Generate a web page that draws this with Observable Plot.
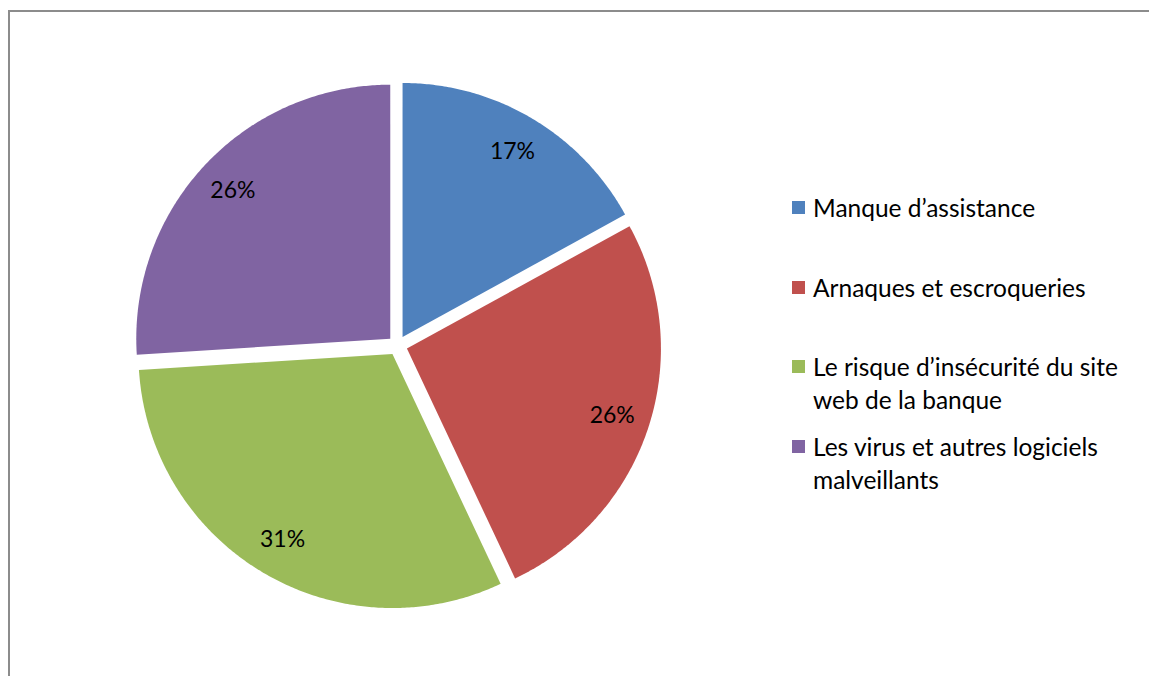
<!DOCTYPE html>
<html>
<head>
<meta charset="utf-8">
<script src="https://cdn.jsdelivr.net/npm/d3@7"></script>
<script src="https://cdn.jsdelivr.net/npm/@observablehq/plot@0.6"></script>
<style>
  html, body { margin: 0; padding: 0; background: #fff; overflow: hidden; }
  #wrap { position: relative; width: 1149px; height: 676px; overflow: hidden; font-family: Lato, "Open Sans", sans-serif; }
  #frame { position: absolute; left: 8px; top: 10px; width: 1300px; height: 800px; border: 2px solid #8c8c8c; box-sizing: border-box; }
  #chart { position: absolute; left: 0; top: 0; }
  #legend { position: absolute; left: 792px; top: 191px; }
  .item { position: relative; height: 79.7px; padding-left: 21px; font-size: 24.5px; line-height: 33px; color: #000; white-space: nowrap; }
  .sw { position: absolute; left: 0; top: 10px; width: 13px; height: 13px; }
</style>
</head>
<body>
<div id="wrap">
  <div id="frame"></div>
  <div id="chart"></div>
  <div id="legend"></div>
</div>
<script>
const categories = ["Manque d’assistance", "Arnaques et escroqueries", "Le risque d’insécurité du site web de la banque", "Les virus et autres logiciels malveillants"];
const legendLines = [["Manque d’assistance"], ["Arnaques et escroqueries"], ["Le risque d’insécurité du site", "web de la banque"], ["Les virus et autres logiciels", "malveillants"]];
const values = [17, 26, 31, 26];
const colors = ["#4F81BD", "#C0504D", "#9BBB59", "#8064A2"];

const explode = 0.039;
const arcs = d3.pie().sort(null).value(d => d)(values);

// Build slice outlines in unit coordinates (center 0,0, radius 1; angle clockwise from top)
const slicePts = [];
const labels = [];
arcs.forEach((a, i) => {
  const mid = (a.startAngle + a.endAngle) / 2;
  const ox = explode * Math.sin(mid), oy = explode * Math.cos(mid);
  slicePts.push({cat: categories[i], x: ox, y: oy});
  const n = Math.max(2, Math.ceil((a.endAngle - a.startAngle) / (Math.PI / 360)));
  for (let k = 0; k <= n; k++) {
    const t = a.startAngle + (a.endAngle - a.startAngle) * k / n;
    slicePts.push({cat: categories[i], x: ox + Math.sin(t), y: oy + Math.cos(t)});
  }
  slicePts.push({cat: categories[i], x: ox, y: oy});
  const lr = 0.85 + explode;
  labels.push({cat: categories[i], x: lr * Math.sin(mid), y: lr * Math.cos(mid), text: values[i] + "%"});
});

const chart = Plot.plot({
  width: 1149,
  height: 676,
  margin: 0,
  x: {domain: [-1, 1], range: [143, 651], axis: null},
  y: {domain: [-1, 1], range: [599, 91], axis: null},
  color: {domain: categories, range: colors},
  style: {background: "transparent", fontFamily: "Lato, 'Open Sans', sans-serif"},
  marks: [
    Plot.line(slicePts, {x: "x", y: "y", z: "cat", fill: "cat", stroke: "none", curve: "linear"}),
    Plot.text(labels, {x: "x", y: "y", text: "text", fontSize: 23, fill: "#000"})
  ]
});
document.getElementById("chart").appendChild(chart);

const legend = document.getElementById("legend");
legendLines.forEach((lines, i) => {
  const it = document.createElement("div");
  it.className = "item";
  const sw = document.createElement("div");
  sw.className = "sw";
  sw.style.background = colors[i];
  it.appendChild(sw);
  lines.forEach(l => {
    const d = document.createElement("div");
    d.textContent = l;
    it.appendChild(d);
  });
  legend.appendChild(it);
});
</script>
</body>
</html>
